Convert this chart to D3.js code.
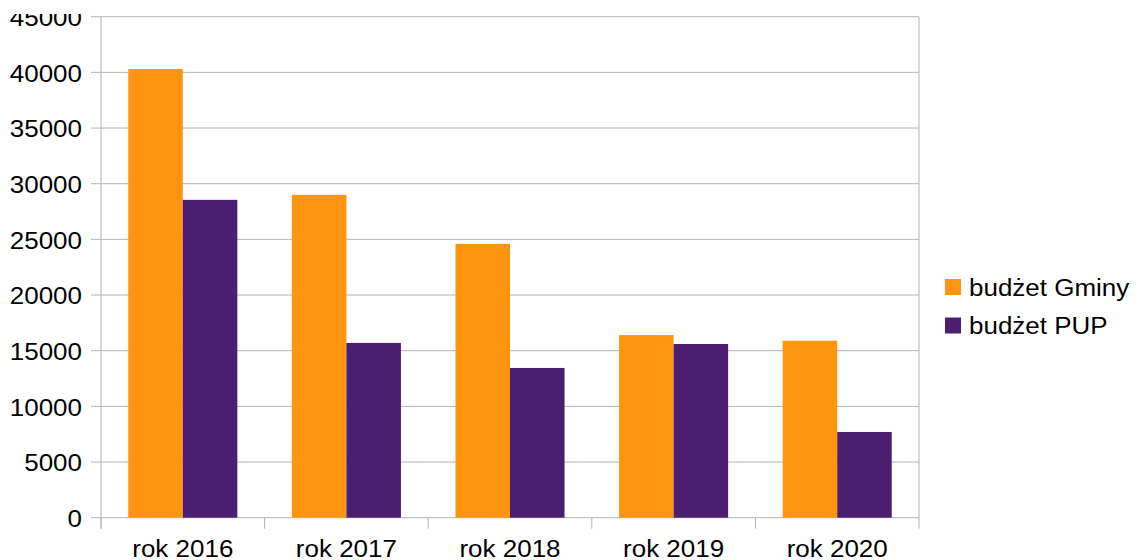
<!DOCTYPE html>
<html>
<head>
<meta charset="utf-8">
<script src="https://cdn.jsdelivr.net/npm/d3@7.9.0/dist/d3.min.js"></script>
<style>
  body { margin: 0; background: #fff; }
  svg { display: block; font-family: "Liberation Sans", Arial, sans-serif; }
</style>
</head>
<body>
<svg id="chart" width="1140" height="560"></svg>
<script>
// data
const years = ['rok 2016', 'rok 2017', 'rok 2018', 'rok 2019', 'rok 2020'];
const seriesNames = ['budżet Gminy', 'budżet PUP'];
const gminy = [40300, 29000, 24600, 16400, 15900];
const pup = [28550, 15700, 13450, 15600, 7700];
const yTicks = [0, 5000, 10000, 15000, 20000, 25000, 30000, 35000, 40000, 45000];
const colors = ['#ff950e', '#4b1f6f'];

const svg = d3.select('#chart');
const plot = { left: 101, right: 919, top: 16.7, bottom: 517.7 };
const fs = 23;      // font size
const sx = 1.13;    // reference text is a bit wide

// top of the picture is cropped in the reference, label 45000 is cut
svg.append('defs').append('clipPath').attr('id', 'topcut')
  .append('rect').attr('x', 0).attr('y', 14).attr('width', 1140).attr('height', 546);

const x = d3.scaleBand().domain(years).range([plot.left, plot.right]).padding(0);
const x1 = d3.scaleBand().domain(seriesNames)
  .range([x.bandwidth() / 6, x.bandwidth() * 5 / 6]).padding(0);
const y = d3.scaleLinear().domain([0, 45000]).range([plot.bottom, plot.top]);

// gridlines
svg.append('g')
  .selectAll('line')
  .data(yTicks)
  .join('line')
  .attr('x1', plot.left - 10)
  .attr('x2', plot.right)
  .attr('y1', d => y(d))
  .attr('y2', d => y(d))
  .attr('stroke', '#b3b3b3')
  .attr('stroke-width', 1);

// bars
const groups = svg.append('g')
  .selectAll('g')
  .data(years)
  .join('g')
  .attr('transform', d => `translate(${x(d)},0)`);

groups.selectAll('rect')
  .data((d, i) => [gminy[i], pup[i]].map((v, j) => ({ key: seriesNames[j], value: v, c: colors[j] })))
  .join('rect')
  .attr('x', d => x1(d.key))
  .attr('width', x1.bandwidth())
  .attr('y', d => y(d.value))
  .attr('height', d => y(0) - y(d.value))
  .attr('fill', d => d.c);

// vertical axis line
svg.append('line')
  .attr('x1', plot.left).attr('x2', plot.left)
  .attr('y1', plot.top).attr('y2', plot.bottom + 11)
  .attr('stroke', '#b3b3b3');

// category ticks (last one runs up as the right border)
const bounds = years.map(d => x(d)).concat([plot.right]);
svg.append('g')
  .selectAll('line')
  .data(bounds)
  .join('line')
  .attr('x1', d => d).attr('x2', d => d)
  .attr('y1', (d, i) => i === bounds.length - 1 ? plot.top : plot.bottom)
  .attr('y2', plot.bottom + 11)
  .attr('stroke', '#b3b3b3');

// y labels
svg.append('g')
  .attr('clip-path', 'url(#topcut)')
  .selectAll('text')
  .data(yTicks)
  .join('text')
  .attr('transform', d => `translate(82,${y(d)}) scale(${sx},1)`)
  .attr('dy', '0.4em')
  .attr('text-anchor', 'end')
  .attr('font-size', fs)
  .attr('fill', '#000')
  .text(d => d);

// x labels
svg.append('g')
  .selectAll('text')
  .data(years)
  .join('text')
  .attr('transform', d => `translate(${x(d) + x.bandwidth() / 2},556.5) scale(${sx},1)`)
  .attr('text-anchor', 'middle')
  .attr('font-size', fs)
  .attr('fill', '#000')
  .text(d => d);

// legend
const legend = svg.append('g').attr('transform', 'translate(945,279)');
seriesNames.forEach((name, i) => {
  const row = legend.append('g').attr('transform', `translate(0,${i * 38.5})`);
  row.append('rect').attr('width', 16).attr('height', 16).attr('fill', colors[i]);
  row.append('text')
    .attr('transform', `translate(24,8) scale(${sx},1)`)
    .attr('dy', '0.38em')
    .attr('font-size', fs)
    .attr('fill', '#000')
    .text(name);
});
</script>
</body>
</html>
